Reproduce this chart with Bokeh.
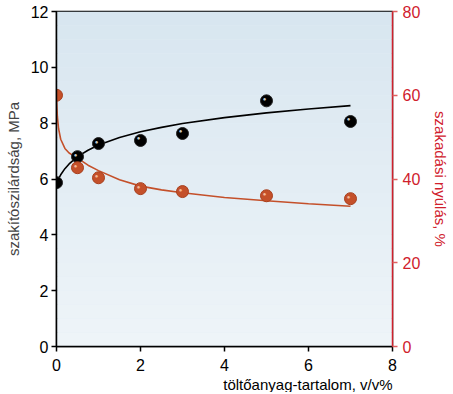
from bokeh.plotting import figure
from bokeh.models import Range1d, LinearAxis, FixedTicker, ColumnDataSource, Title, BoxAnnotation
from bokeh.embed import file_html
from bokeh.resources import INLINE

# measured points
x_pts = [0, 0.5, 1, 2, 3, 5, 7]
strength = [5.87, 6.80, 7.27, 7.38, 7.63, 8.80, 8.06]
elong = [60.0, 42.7, 40.3, 37.7, 37.0, 36.0, 35.3]

# fitted curves
fit_x = [0, 0.02, 0.05, 0.1, 0.2, 0.3, 0.5, 0.75, 1, 1.5, 2, 2.5, 3, 4, 5, 6, 7]
fit_strength = [5.85, 5.93, 6.01, 6.15, 6.37, 6.54, 6.80, 7.03, 7.22, 7.49, 7.69, 7.85, 7.99, 8.20, 8.37, 8.51, 8.63]
fit_elong = [60.0, 55.0, 52.0, 49.5, 47.3, 46.2, 45.0, 43.3, 42.0, 39.8, 38.3, 37.4, 36.7, 35.6, 34.8, 34.1, 33.5]

x_ticks = [0, 2, 4, 6, 8]
left_ticks = [0, 2, 4, 6, 8, 10, 12]
right_ticks = [0, 20, 40, 60, 80]

FONT = "Liberation Sans"
RED = "#d0202c"
BROWN = "#c4502a"

p = figure(frame_width=336, frame_height=335, output_backend="svg", toolbar_location=None,
           x_range=Range1d(0, 8), y_range=Range1d(0, 12),
           min_border_left=56, min_border_top=11, min_border_right=52, min_border_bottom=45)
p.extra_y_ranges = {"el": Range1d(0, 80)}
p.border_fill_color = "white"
p.background_fill_color = "#e4eef5"
p.outline_line_color = "black"
p.outline_line_width = 1.5
p.grid.visible = False

# soft vertical gradient in the plot background (decoration)
n_strips = 24
top_c = (0xd8, 0xe6, 0xf0)
bot_c = (0xee, 0xf4, 0xf8)
for i in range(n_strips):
    f = i / (n_strips - 1)
    c = tuple(int(round(bot_c[k] + (top_c[k] - bot_c[k]) * f)) for k in range(3))
    p.add_layout(BoxAnnotation(bottom=12 * i / n_strips, top=12 * (i + 1) / n_strips,
                               fill_color="#%02x%02x%02x" % c, fill_alpha=1.0,
                               line_color=None, level="underlay"))

# curves
p.line(fit_x, fit_strength, line_color="black", line_width=1.6)
p.line(fit_x, fit_elong, line_color=BROWN, line_width=1.6, y_range_name="el")

# points
p.scatter(x_pts, strength, size=12, fill_color="black", line_color="#222222")
p.scatter(x_pts, elong, size=12, fill_color=BROWN, line_color="#a8401e", y_range_name="el")
src_h1 = ColumnDataSource(dict(x=x_pts, y=strength, t=["●"] * len(x_pts)))
p.text("x", "y", text="t", source=src_h1, text_color="#c8c8c8", text_font_size="6px",
       x_offset=-2, y_offset=-2, text_align="center", text_baseline="middle")
src_h2 = ColumnDataSource(dict(x=x_pts, y=elong, t=["●"] * len(x_pts)))
p.text("x", "y", text="t", source=src_h2, text_color="#f4b898", text_font_size="6px",
       x_offset=-2, y_offset=-2, text_align="center", text_baseline="middle", y_range_name="el")

# axes styling
for ax in [p.xaxis[0], p.yaxis[0]]:
    ax.major_label_text_font = FONT
    ax.major_label_text_font_size = "16px"
    ax.major_label_text_color = "black"
    ax.axis_label_text_font = FONT
    ax.axis_label_text_font_size = "15px"
    ax.axis_label_text_font_style = "normal"
    ax.axis_line_color = "black"
    ax.axis_line_width = 1.5
    ax.major_tick_line_color = "black"
    ax.major_tick_line_width = 1.5
    ax.major_tick_out = 5
    ax.major_tick_in = 0
    ax.minor_tick_line_color = None
    ax.major_label_standoff = 3

p.xaxis.ticker = FixedTicker(ticks=x_ticks)
p.xaxis.major_label_standoff = 7
p.yaxis.ticker = FixedTicker(ticks=left_ticks)
p.yaxis.axis_label = "szakítószilárdság, MPa"
p.yaxis.axis_label_standoff = 6

# x axis title, right-aligned with the end of the axis
p.add_layout(Title(text="töltőanyag-tartalom, v/v%", align="right", text_font=FONT,
                   text_font_size="15px", text_font_style="normal", text_color="black",
                   standoff=0, offset=0), "below")

ra = LinearAxis(y_range_name="el", ticker=FixedTicker(ticks=right_ticks),
                axis_label="szakadási nyúlás, %")
ra.major_label_text_font = FONT
ra.major_label_text_font_size = "16px"
ra.major_label_text_color = RED
ra.axis_label_text_font = FONT
ra.axis_label_text_font_size = "15px"
ra.axis_label_text_font_style = "normal"
ra.axis_label_text_color = RED
ra.axis_line_color = RED
ra.axis_line_width = 1.5
ra.major_tick_line_color = "#e06060"
ra.major_tick_line_width = 1.5
ra.major_tick_out = 5
ra.major_tick_in = 0
ra.minor_tick_line_color = None
ra.major_label_standoff = 5
ra.axis_label_standoff = 9
p.add_layout(ra, "right")

open("out.html", "w").write(file_html(p, INLINE))
